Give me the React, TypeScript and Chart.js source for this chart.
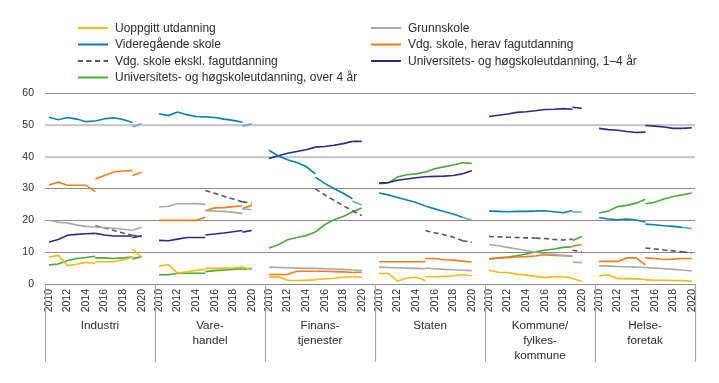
import React, { useEffect, useRef } from 'react';
import { Chart, registerables } from 'chart.js';

Chart.register(...registerables);

// ---------- data ----------
const PANELS = [
  ['Industri'],
  ['Vare-', 'handel'],
  ['Finans-', 'tjenester'],
  ['Staten'],
  ['Kommune/', 'fylkes-', 'kommune'],
  ['Helse-', 'foretak'],
];
const TICK_YEARS = [2010, 2012, 2014, 2016, 2018, 2020];
// segments of each series (breaks in the statistics)
const SEG_A_YEARS = [2010, 2011, 2012, 2013, 2014, 2015];
const SEG_B_YEARS = [2015, 2016, 2017, 2018, 2019];
const SEG_C_YEARS = [2019, 2020];

// each row = one panel: [2010..2015 | 2015..2019 | 2019..2020]
const uoppgitt = [
  [8.5, 9.0, 5.8, 6.2, 6.8, 6.5, 7.0, 7.0, 7.0, 7.6, 8.4, 11.0, 8.4],
  [5.5, 6.1, 3.4, 3.8, 4.3, 4.6, 4.9, 4.9, 5.0, 5.1, 5.3, 5.4, 4.4],
  [2.2, 2.3, 1.2, 1.1, 1.2, 1.3, 1.4, 1.6, 1.8, 2.1, 2.3, 2.3, 2.1],
  [3.3, 3.3, 0.9, 1.9, 2.1, 1.1, 2.3, 2.3, 2.4, 2.6, 2.9, 2.9, 2.6],
  [4.3, 3.7, 3.6, 3.1, 2.8, 2.4, 2.4, 2.0, 2.3, 2.3, 1.9, 1.7, 0.8],
  [2.6, 2.9, 1.7, 1.7, 1.6, 1.4, 1.3, 1.2, 1.2, 1.1, 1.1, 1.1, 0.9],
];
const grunnskole = [
  [20.0, 19.4, 19.2, 18.5, 18.1, 17.9, 17.9, 17.7, 17.5, 17.2, 16.9, 16.9, 17.8],
  [24.2, 24.4, 25.2, 25.2, 25.3, 25.0, 23.1, 22.9, 22.8, 22.5, 22.2, 23.6, 23.3],
  [5.3, 5.2, 5.1, 5.0, 4.9, 4.9, 4.9, 4.8, 4.7, 4.6, 4.4, 4.4, 4.2],
  [5.3, 5.2, 5.1, 5.0, 4.9, 4.8, 5.0, 4.8, 4.6, 4.5, 4.3, 4.3, 4.2],
  [12.4, 12.0, 11.5, 11.0, 10.5, 10.0, 10.0, 9.5, 9.3, 9.0, 8.8, 6.9, 6.7],
  [5.7, 5.6, 5.5, 5.4, 5.3, 5.2, 5.2, 5.0, 4.8, 4.6, 4.4, 4.4, 4.1],
];
const videregaende = [
  [52.4, 51.6, 52.3, 51.8, 51.0, 51.2, 51.2, 51.9, 52.2, 51.7, 50.7, 49.3, 50.4],
  [53.5, 52.9, 54.0, 53.2, 52.6, 52.5, 52.5, 52.3, 51.8, 51.4, 50.8, 49.6, 50.3],
  [42.0, 40.2, 39.0, 38.2, 36.9, 34.6, 33.6, 31.6, 30.0, 28.5, 26.8, 26.0, 24.8],
  [28.6, 28.0, 27.2, 26.4, 25.6, 24.5, 24.5, 23.6, 22.8, 22.0, 21.0, 21.0, 20.0],
  [22.9, 22.8, 22.7, 22.8, 22.8, 22.9, 22.9, 23.0, 22.7, 22.4, 23.1, 22.6, 22.6],
  [20.9, 20.4, 20.2, 20.4, 20.1, 19.5, 18.8, 18.6, 18.3, 18.1, 17.8, 17.8, 17.4],
];
const fagutdanning = [
  [31.1, 32.0, 31.0, 31.0, 31.0, 29.0, 33.0, 34.1, 35.2, 35.5, 35.6, 34.1, 35.1],
  [20.0, 20.0, 20.0, 20.0, 20.0, 21.0, 23.0, 23.9, 24.0, 24.3, 24.6, 23.7, 24.7],
  [3.0, 3.0, 3.0, 4.0, 4.0, 4.0, 4.0, 4.0, 3.9, 3.8, 3.6, 3.6, 3.7],
  [7.0, 7.0, 7.0, 7.0, 7.0, 7.0, 8.0, 8.0, 7.6, 7.5, 7.2, 7.2, 6.9],
  [7.9, 8.1, 8.3, 8.5, 8.6, 8.8, 8.8, 9.2, 9.0, 8.9, 8.7, 11.9, 12.4],
  [7.1, 7.1, 7.1, 8.2, 8.2, 6.0, 8.2, 8.0, 7.7, 7.8, 8.0, 8.0, 8.0],
];
const ekskl = [
  [null, null, null, null, null, null, 18.3, 17.6, 16.8, 16.0, 15.3, 15.3, 14.8],
  [null, null, null, null, null, null, 29.4, 28.5, 27.6, 26.7, 25.8, 25.8, 25.4],
  [null, null, null, null, null, null, 29.9, 28.0, 26.3, 24.6, 23.0, 23.0, 21.5],
  [null, null, null, null, null, null, 16.8, 16.1, 15.5, 14.7, 13.6, 13.6, 13.1],
  [14.9, 14.8, 14.7, 14.6, 14.5, 14.4, 14.4, 14.3, 14.0, 13.8, 14.1, 10.6, 10.2],
  [null, null, null, null, null, null, 11.3, 11.0, 10.7, 10.4, 10.1, 10.1, 9.7],
];
const univ14 = [
  [13.2, 14.0, 15.3, 15.6, 15.8, 15.9, 15.9, 15.4, 15.1, 15.1, 15.1, 14.5, 15.2],
  [13.7, 13.6, 14.1, 14.6, 14.6, 14.6, 15.4, 15.7, 16.0, 16.4, 16.8, 16.3, 16.8],
  [39.4, 40.3, 41.1, 41.6, 42.2, 43.0, 43.0, 43.2, 43.6, 44.1, 44.8, 44.8, 44.8],
  [31.7, 31.9, 32.6, 33.0, 33.4, 33.7, 33.7, 33.8, 33.9, 34.1, 34.6, 34.6, 35.6],
  [52.6, 53.0, 53.4, 53.9, 54.1, 54.4, 54.4, 54.8, 54.9, 55.1, 54.9, 55.5, 55.2],
  [48.9, 48.5, 48.3, 47.9, 47.6, 47.7, 49.8, 49.6, 49.3, 48.9, 48.9, 48.9, 49.1],
];
const univOver4 = [
  [6.0, 6.3, 7.4, 8.0, 8.3, 8.7, 8.2, 8.2, 8.0, 8.2, 8.5, 7.9, 8.6],
  [2.9, 2.9, 3.4, 3.4, 3.4, 3.4, 3.9, 4.2, 4.4, 4.6, 4.8, 4.6, 4.9],
  [11.3, 12.3, 13.9, 14.6, 15.2, 16.3, 16.3, 18.6, 20.2, 21.2, 22.6, 22.6, 23.9],
  [31.5, 31.7, 33.6, 34.3, 34.6, 35.2, 35.1, 36.2, 36.8, 37.4, 38.1, 38.1, 37.9],
  [7.9, 8.2, 8.5, 8.9, 9.4, 10.1, 10.1, 10.6, 11.0, 11.5, 11.7, 13.7, 14.9],
  [22.3, 22.9, 24.3, 24.7, 25.4, 26.6, 25.2, 25.7, 26.7, 27.5, 28.0, 28.0, 28.6],
];

const SERIES = [
  { label: 'Uoppgitt utdanning', data: uoppgitt, color: '#f9b80f', colorC: '#f9b80f', dash: [] as number[] },
  { label: 'Grunnskole', data: grunnskole, color: '#a8a8a8', colorC: '#a8a8a8', dash: [] as number[] },
  { label: 'Videregående skole', data: videregaende, color: '#0b7db0', colorC: '#5fa9df', dash: [] as number[] },
  { label: 'Vdg. skole, herav fagutdanning', data: fagutdanning, color: '#f07c1e', colorC: '#f07c1e', dash: [] as number[] },
  { label: 'Vdg. skole ekskl. fagutdanning', data: ekskl, color: '#555555', colorC: '#555555', dash: [5, 3.5] },
  { label: 'Universitets- og høgskoleutdanning, 1–4 år', data: univ14, color: '#2e2a82', colorC: '#2e2a82', dash: [] as number[] },
  { label: 'Universitets- og høgskoleutdanning, over 4 år', data: univOver4, color: '#4aa83b', colorC: '#4aa83b', dash: [] as number[] },
];

// ---------- layout constants ----------
const SPAN = 11.87; // x units per panel
const LEFT_PAD = 0.43;
const RIGHT_PAD = 0.35;
const FONT = "'Liberation Sans', Arial, sans-serif";
const TEXT = '#2b2b2b';

const xOf = (p: number, year: number) => p * SPAN + (year - 2010);

function buildSegment(values: (number | null)[][], years: number[], offset: number) {
  const pts: { x: number; y: number | null }[] = [];
  values.forEach((row, p) => {
    years.forEach((yr, i) => {
      const v = row[offset + i];
      pts.push({ x: xOf(p, yr), y: v === null || v === undefined ? null : v });
    });
    pts.push({ x: xOf(p, 2020) + 0.7, y: null });
  });
  return pts;
}

const decorPlugin = {
  id: 'decor',
  afterDraw(chart: any) {
    const { ctx, chartArea } = chart;
    const xs = chart.scales.x;
    ctx.save();
    // panel separators
    const seps: number[] = [];
    for (let p = 0; p < PANELS.length; p++) seps.push(xs.getPixelForValue(p * SPAN - LEFT_PAD));
    seps.push(chartArea.right);
    ctx.strokeStyle = '#a9a9a9';
    ctx.lineWidth = 1.2;
    seps.forEach((sx) => {
      const px = Math.round(sx) + 0.5;
      ctx.beginPath();
      ctx.moveTo(px, chartArea.bottom);
      ctx.lineTo(px, 362);
      ctx.stroke();
    });
    // panel labels
    ctx.fillStyle = TEXT;
    ctx.font = `11.7px ${FONT}`;
    ctx.textAlign = 'center';
    ctx.textBaseline = 'middle';
    PANELS.forEach((lines, p) => {
      const cx = (seps[p] + seps[p + 1]) / 2;
      lines.forEach((t, i) => ctx.fillText(t, cx, 326 + i * 15));
    });
    // legend
    const cols = [78, 371];
    const rows = [28, 44.5, 61, 77.5];
    ctx.textAlign = 'left';
    ctx.font = `12px ${FONT}`;
    SERIES.forEach((s, i) => {
      const x = cols[i % 2];
      const y = rows[Math.floor(i / 2)];
      ctx.strokeStyle = s.color;
      ctx.lineWidth = 2;
      ctx.setLineDash(s.dash);
      ctx.beginPath();
      ctx.moveTo(x, y);
      ctx.lineTo(x + 30, y);
      ctx.stroke();
      ctx.setLineDash([]);
      ctx.fillStyle = TEXT;
      ctx.fillText(s.label, x + 37, y + 0.5);
    });
    ctx.restore();
  },
};

export default function App() {
  const ref = useRef<HTMLCanvasElement | null>(null);
  useEffect(() => {
    if (!ref.current) return;
    const datasets: any[] = [];
    SERIES.forEach((s) => {
      const segs = [
        { years: SEG_A_YEARS, off: 0, color: s.color },
        { years: SEG_B_YEARS, off: 6, color: s.color },
        { years: SEG_C_YEARS, off: 11, color: s.colorC },
      ];
      segs.forEach((sg) => {
        datasets.push({
          label: s.label,
          data: buildSegment(s.data, sg.years, sg.off),
          borderColor: sg.color,
          backgroundColor: sg.color,
          borderWidth: 1.6,
          borderDash: s.dash,
          pointRadius: 0,
          pointHoverRadius: 0,
          tension: 0,
          spanGaps: false,
          fill: false,
        });
      });
    });

    const tickValues: number[] = [];
    const tickLabels: string[] = [];
    PANELS.forEach((_, p) => {
      TICK_YEARS.forEach((yr) => {
        tickValues.push(xOf(p, yr));
        tickLabels.push(String(yr));
      });
    });

    const chart = new Chart(ref.current, {
      type: 'line',
      data: { datasets },
      options: {
        animation: false,
        responsive: false,
        maintainAspectRatio: false,
        layout: { padding: { top: 93, right: 24, bottom: 0, left: 0 } },
        plugins: { legend: { display: false }, tooltip: { enabled: false } },
        scales: {
          x: {
            type: 'linear',
            min: -LEFT_PAD,
            max: xOf(PANELS.length - 1, 2020) + RIGHT_PAD,
            afterBuildTicks: (scale: any) => {
              scale.ticks = tickValues.map((v) => ({ value: v }));
            },
            afterFit: (scale: any) => {
              scale.height = 99;
            },
            grid: { display: false, drawTicks: false },
            border: { display: true, color: '#8c8c8c', width: 1 },
            ticks: {
              autoSkip: false,
              minRotation: 90,
              maxRotation: 90,
              padding: 5,
              color: TEXT,
              font: { family: FONT, size: 10.5 },
              callback: (_v: any, i: number) => tickLabels[i],
            },
          },
          y: {
            min: 0,
            max: 60,
            afterFit: (scale: any) => {
              scale.width = 45;
            },
            grid: {
              drawTicks: false,
              color: (c: any) => (c.tick && (c.tick.value === 40 || c.tick.value === 50) ? '#c9c9c9' : '#8c8c8c'),
              lineWidth: (c: any) => (c.tick && (c.tick.value === 40 || c.tick.value === 50) ? 2.2 : 1),
            },
            border: { display: false },
            ticks: {
              stepSize: 10,
              padding: 11,
              color: TEXT,
              font: { family: FONT, size: 10.5 },
            },
          },
        },
      },
      plugins: [decorPlugin],
    });
    return () => chart.destroy();
  }, []);

  return (
    <div style={{ position: 'absolute', left: 0, top: 0, width: 719, height: 383, background: '#fff' }}>
      <canvas ref={ref} width={719} height={383} />
    </div>
  );
}
